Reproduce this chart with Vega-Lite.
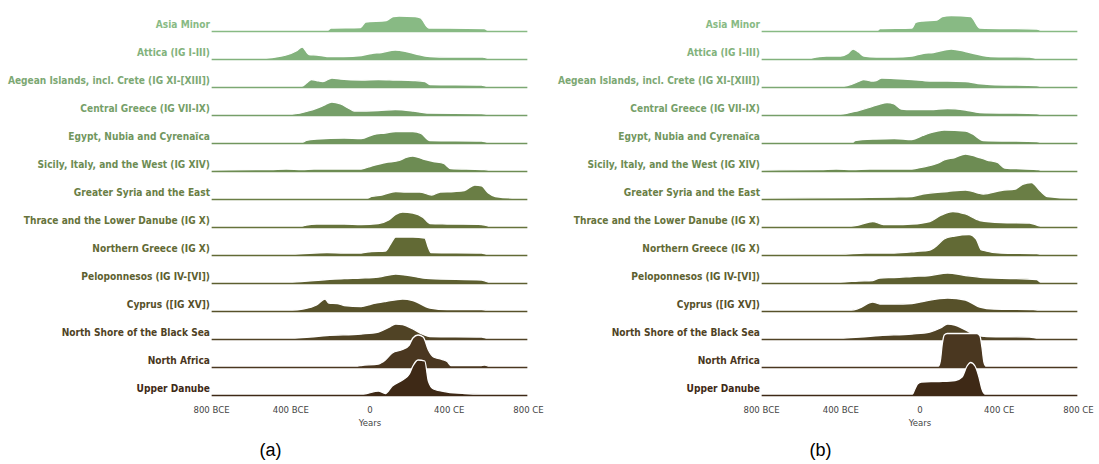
{
"$schema": "https://vega.github.io/schema/vega-lite/v6.json",
"padding": {"left": 7, "top": 5, "right": 5, "bottom": 0},
"background": "white",
"config": {"view": {"stroke": null}, "font": "DejaVu Sans Condensed"},
"datasets": {
"d": [
{"p":"a","k":1,"x":-800,"y":3,"n":"Asia Minor"},{"p":"a","k":1,"x":-210,"y":3},{"p":"a","k":1,"x":-195,"y":5},{"p":"a","k":1,"x":-45,"y":5.5},{"p":"a","k":1,"x":-20,"y":11},{"p":"a","k":1,"x":85,"y":12.5},{"p":"a","k":1,"x":120,"y":16.5},{"p":"a","k":1,"x":150,"y":17},{"p":"a","k":1,"x":230,"y":16.5},{"p":"a","k":1,"x":258,"y":15},{"p":"a","k":1,"x":300,"y":5},{"p":"a","k":1,"x":580,"y":4.5},{"p":"a","k":1,"x":595,"y":3},{"p":"a","k":1,"x":800,"y":3},
{"p":"a","k":2,"x":-800,"y":3,"n":"Attica (IG I-III)"},{"p":"a","k":2,"x":-530,"y":3},{"p":"a","k":2,"x":-475,"y":4},{"p":"a","k":2,"x":-420,"y":6},{"p":"a","k":2,"x":-370,"y":10},{"p":"a","k":2,"x":-340,"y":14},{"p":"a","k":2,"x":-305,"y":6.5},{"p":"a","k":2,"x":-265,"y":6},{"p":"a","k":2,"x":-215,"y":4.5},{"p":"a","k":2,"x":-130,"y":4.5},{"p":"a","k":2,"x":-40,"y":5.5},{"p":"a","k":2,"x":10,"y":7.5},{"p":"a","k":2,"x":60,"y":8.5},{"p":"a","k":2,"x":130,"y":11},{"p":"a","k":2,"x":185,"y":9.5},{"p":"a","k":2,"x":235,"y":7},{"p":"a","k":2,"x":305,"y":4.5},{"p":"a","k":2,"x":400,"y":4},{"p":"a","k":2,"x":570,"y":4},{"p":"a","k":2,"x":595,"y":3},{"p":"a","k":2,"x":800,"y":3},
{"p":"a","k":3,"x":-800,"y":3,"n":"Aegean Islands, incl. Crete (IG XI-[XIII])"},{"p":"a","k":3,"x":-340,"y":3},{"p":"a","k":3,"x":-318,"y":6},{"p":"a","k":3,"x":-293,"y":9.5},{"p":"a","k":3,"x":-267,"y":8.5},{"p":"a","k":3,"x":-235,"y":7.5},{"p":"a","k":3,"x":-190,"y":11},{"p":"a","k":3,"x":-146,"y":10},{"p":"a","k":3,"x":-40,"y":9},{"p":"a","k":3,"x":45,"y":9.5},{"p":"a","k":3,"x":130,"y":9},{"p":"a","k":3,"x":220,"y":8.5},{"p":"a","k":3,"x":280,"y":7.5},{"p":"a","k":3,"x":305,"y":4.5},{"p":"a","k":3,"x":565,"y":4},{"p":"a","k":3,"x":595,"y":3},{"p":"a","k":3,"x":800,"y":3},
{"p":"a","k":4,"x":-800,"y":3,"n":"Central Greece (IG VII-IX)"},{"p":"a","k":4,"x":-390,"y":3},{"p":"a","k":4,"x":-300,"y":6.5},{"p":"a","k":4,"x":-232,"y":11.5},{"p":"a","k":4,"x":-190,"y":15},{"p":"a","k":4,"x":-146,"y":13},{"p":"a","k":4,"x":-94,"y":7.5},{"p":"a","k":4,"x":-76,"y":6},{"p":"a","k":4,"x":45,"y":6.5},{"p":"a","k":4,"x":130,"y":7.5},{"p":"a","k":4,"x":220,"y":6},{"p":"a","k":4,"x":290,"y":4},{"p":"a","k":4,"x":565,"y":3.5},{"p":"a","k":4,"x":595,"y":3},{"p":"a","k":4,"x":800,"y":3},
{"p":"a","k":5,"x":-800,"y":3,"n":"Egypt, Nubia and Cyrenaïca"},{"p":"a","k":5,"x":-337,"y":3},{"p":"a","k":5,"x":-319,"y":4.5},{"p":"a","k":5,"x":-267,"y":6},{"p":"a","k":5,"x":-128,"y":7},{"p":"a","k":5,"x":-42,"y":6.5},{"p":"a","k":5,"x":19,"y":10.5},{"p":"a","k":5,"x":80,"y":12},{"p":"a","k":5,"x":132,"y":13.5},{"p":"a","k":5,"x":219,"y":13.5},{"p":"a","k":5,"x":260,"y":11.5},{"p":"a","k":5,"x":305,"y":4.5},{"p":"a","k":5,"x":566,"y":4},{"p":"a","k":5,"x":600,"y":3},{"p":"a","k":5,"x":800,"y":3},
{"p":"a","k":6,"x":-800,"y":3,"n":"Sicily, Italy, and the West (IG XIV)"},{"p":"a","k":6,"x":-500,"y":3.5},{"p":"a","k":6,"x":-420,"y":4},{"p":"a","k":6,"x":-340,"y":3.5},{"p":"a","k":6,"x":-280,"y":4},{"p":"a","k":6,"x":-42,"y":4},{"p":"a","k":6,"x":10,"y":7},{"p":"a","k":6,"x":80,"y":10.5},{"p":"a","k":6,"x":150,"y":12.5},{"p":"a","k":6,"x":184,"y":15.5},{"p":"a","k":6,"x":219,"y":17},{"p":"a","k":6,"x":271,"y":14},{"p":"a","k":6,"x":323,"y":11.5},{"p":"a","k":6,"x":375,"y":9.5},{"p":"a","k":6,"x":410,"y":4.5},{"p":"a","k":6,"x":566,"y":3.5},{"p":"a","k":6,"x":600,"y":3},{"p":"a","k":6,"x":800,"y":3},
{"p":"a","k":7,"x":-800,"y":3,"n":"Greater Syria and the East"},{"p":"a","k":7,"x":-10,"y":3},{"p":"a","k":7,"x":10,"y":4.5},{"p":"a","k":7,"x":62,"y":6},{"p":"a","k":7,"x":132,"y":9.5},{"p":"a","k":7,"x":184,"y":9},{"p":"a","k":7,"x":253,"y":9},{"p":"a","k":7,"x":314,"y":6},{"p":"a","k":7,"x":357,"y":9},{"p":"a","k":7,"x":427,"y":9.5},{"p":"a","k":7,"x":479,"y":10.5},{"p":"a","k":7,"x":531,"y":16},{"p":"a","k":7,"x":566,"y":15},{"p":"a","k":7,"x":600,"y":8},{"p":"a","k":7,"x":635,"y":4.5},{"p":"a","k":7,"x":740,"y":3},{"p":"a","k":7,"x":800,"y":3},
{"p":"a","k":8,"x":-800,"y":3,"n":"Thrace and the Lower Danube (IG X)"},{"p":"a","k":8,"x":-340,"y":3},{"p":"a","k":8,"x":-319,"y":4},{"p":"a","k":8,"x":-267,"y":5},{"p":"a","k":8,"x":-128,"y":5},{"p":"a","k":8,"x":-42,"y":4.5},{"p":"a","k":8,"x":45,"y":5.5},{"p":"a","k":8,"x":97,"y":9},{"p":"a","k":8,"x":132,"y":14.5},{"p":"a","k":8,"x":167,"y":17},{"p":"a","k":8,"x":219,"y":16},{"p":"a","k":8,"x":271,"y":11.5},{"p":"a","k":8,"x":305,"y":5.5},{"p":"a","k":8,"x":392,"y":5},{"p":"a","k":8,"x":566,"y":4.5},{"p":"a","k":8,"x":600,"y":3},{"p":"a","k":8,"x":800,"y":3},
{"p":"a","k":9,"x":-800,"y":3,"n":"Northern Greece (IG X)"},{"p":"a","k":9,"x":-390,"y":3},{"p":"a","k":9,"x":-215,"y":4.5},{"p":"a","k":9,"x":-128,"y":4},{"p":"a","k":9,"x":-42,"y":4},{"p":"a","k":9,"x":10,"y":5.5},{"p":"a","k":9,"x":80,"y":6},{"p":"a","k":9,"x":106,"y":13},{"p":"a","k":9,"x":132,"y":20},{"p":"a","k":9,"x":219,"y":20},{"p":"a","k":9,"x":279,"y":19},{"p":"a","k":9,"x":297,"y":9.5},{"p":"a","k":9,"x":310,"y":4.5},{"p":"a","k":9,"x":566,"y":4},{"p":"a","k":9,"x":595,"y":3},{"p":"a","k":9,"x":800,"y":3},
{"p":"a","k":10,"x":-800,"y":3,"n":"Peloponnesos (IG IV-[VI])"},{"p":"a","k":10,"x":-389,"y":3},{"p":"a","k":10,"x":-215,"y":5.5},{"p":"a","k":10,"x":-128,"y":6.5},{"p":"a","k":10,"x":-42,"y":7},{"p":"a","k":10,"x":45,"y":8},{"p":"a","k":10,"x":132,"y":11},{"p":"a","k":10,"x":184,"y":10},{"p":"a","k":10,"x":271,"y":7},{"p":"a","k":10,"x":305,"y":6.5},{"p":"a","k":10,"x":566,"y":5},{"p":"a","k":10,"x":600,"y":3},{"p":"a","k":10,"x":800,"y":3},
{"p":"a","k":11,"x":-800,"y":3,"n":"Cyprus ([IG XV])"},{"p":"a","k":11,"x":-389,"y":3},{"p":"a","k":11,"x":-337,"y":4},{"p":"a","k":11,"x":-267,"y":8},{"p":"a","k":11,"x":-224,"y":14},{"p":"a","k":11,"x":-206,"y":10},{"p":"a","k":11,"x":-163,"y":9.5},{"p":"a","k":11,"x":-128,"y":7.5},{"p":"a","k":11,"x":-42,"y":6.5},{"p":"a","k":11,"x":10,"y":9},{"p":"a","k":11,"x":80,"y":11.5},{"p":"a","k":11,"x":167,"y":14},{"p":"a","k":11,"x":219,"y":12.5},{"p":"a","k":11,"x":305,"y":5},{"p":"a","k":11,"x":392,"y":3.5},{"p":"a","k":11,"x":566,"y":3.5},{"p":"a","k":11,"x":590,"y":3},{"p":"a","k":11,"x":800,"y":3},
{"p":"a","k":12,"x":-800,"y":3,"n":"North Shore of the Black Sea"},{"p":"a","k":12,"x":-389,"y":3},{"p":"a","k":12,"x":-300,"y":4},{"p":"a","k":12,"x":-215,"y":5.5},{"p":"a","k":12,"x":-42,"y":7},{"p":"a","k":12,"x":45,"y":9},{"p":"a","k":12,"x":97,"y":13.5},{"p":"a","k":12,"x":132,"y":17},{"p":"a","k":12,"x":167,"y":16.5},{"p":"a","k":12,"x":219,"y":12},{"p":"a","k":12,"x":271,"y":6.5},{"p":"a","k":12,"x":305,"y":4.5},{"p":"a","k":12,"x":566,"y":4},{"p":"a","k":12,"x":595,"y":3},{"p":"a","k":12,"x":800,"y":3},
{"p":"a","k":13,"x":-800,"y":3,"n":"North Africa"},{"p":"a","k":13,"x":-60,"y":3},{"p":"a","k":13,"x":-42,"y":3.5},{"p":"a","k":13,"x":45,"y":5},{"p":"a","k":13,"x":80,"y":9},{"p":"a","k":13,"x":115,"y":16},{"p":"a","k":13,"x":167,"y":19.5},{"p":"a","k":13,"x":201,"y":24},{"p":"a","k":13,"x":219,"y":31},{"p":"a","k":13,"x":245,"y":34},{"p":"a","k":13,"x":271,"y":32},{"p":"a","k":13,"x":297,"y":19},{"p":"a","k":13,"x":323,"y":12},{"p":"a","k":13,"x":357,"y":10},{"p":"a","k":13,"x":392,"y":7.5},{"p":"a","k":13,"x":410,"y":3.5},{"p":"a","k":13,"x":560,"y":3.5},{"p":"a","k":13,"x":580,"y":4},{"p":"a","k":13,"x":600,"y":3},{"p":"a","k":13,"x":800,"y":3},
{"p":"a","k":14,"x":-800,"y":3,"n":"Upper Danube"},{"p":"a","k":14,"x":-30,"y":3},{"p":"a","k":14,"x":45,"y":6},{"p":"a","k":14,"x":80,"y":3.5},{"p":"a","k":14,"x":115,"y":11},{"p":"a","k":14,"x":167,"y":17},{"p":"a","k":14,"x":201,"y":23},{"p":"a","k":14,"x":219,"y":31},{"p":"a","k":14,"x":245,"y":37},{"p":"a","k":14,"x":279,"y":36},{"p":"a","k":14,"x":297,"y":16},{"p":"a","k":14,"x":323,"y":8},{"p":"a","k":14,"x":392,"y":5},{"p":"a","k":14,"x":479,"y":3.5},{"p":"a","k":14,"x":566,"y":3},{"p":"a","k":14,"x":800,"y":3},
{"p":"b","k":1,"x":-800,"y":3,"n":"Asia Minor"},{"p":"b","k":1,"x":-210,"y":3},{"p":"b","k":1,"x":-200,"y":4.5},{"p":"b","k":1,"x":-38,"y":5},{"p":"b","k":1,"x":-20,"y":10.5},{"p":"b","k":1,"x":16,"y":12},{"p":"b","k":1,"x":88,"y":13},{"p":"b","k":1,"x":115,"y":16.5},{"p":"b","k":1,"x":160,"y":17.5},{"p":"b","k":1,"x":259,"y":16.5},{"p":"b","k":1,"x":304,"y":5},{"p":"b","k":1,"x":592,"y":4},{"p":"b","k":1,"x":610,"y":3},{"p":"b","k":1,"x":800,"y":3},
{"p":"b","k":2,"x":-800,"y":3,"n":"Attica (IG I-III)"},{"p":"b","k":2,"x":-545,"y":3},{"p":"b","k":2,"x":-506,"y":4.5},{"p":"b","k":2,"x":-470,"y":5},{"p":"b","k":2,"x":-398,"y":5},{"p":"b","k":2,"x":-362,"y":7.5},{"p":"b","k":2,"x":-335,"y":12},{"p":"b","k":2,"x":-308,"y":9},{"p":"b","k":2,"x":-281,"y":5},{"p":"b","k":2,"x":-218,"y":4},{"p":"b","k":2,"x":-128,"y":4},{"p":"b","k":2,"x":-38,"y":5},{"p":"b","k":2,"x":16,"y":7.5},{"p":"b","k":2,"x":70,"y":8.5},{"p":"b","k":2,"x":160,"y":12},{"p":"b","k":2,"x":232,"y":9.5},{"p":"b","k":2,"x":286,"y":7},{"p":"b","k":2,"x":358,"y":4.5},{"p":"b","k":2,"x":556,"y":4},{"p":"b","k":2,"x":592,"y":3},{"p":"b","k":2,"x":800,"y":3},
{"p":"b","k":3,"x":-800,"y":3,"n":"Aegean Islands, incl. Crete (IG XI-[XIII])"},{"p":"b","k":3,"x":-380,"y":3},{"p":"b","k":3,"x":-344,"y":4.5},{"p":"b","k":3,"x":-308,"y":7.5},{"p":"b","k":3,"x":-281,"y":9.5},{"p":"b","k":3,"x":-245,"y":8},{"p":"b","k":3,"x":-218,"y":8.5},{"p":"b","k":3,"x":-191,"y":11},{"p":"b","k":3,"x":-128,"y":10.5},{"p":"b","k":3,"x":-38,"y":9.5},{"p":"b","k":3,"x":52,"y":8},{"p":"b","k":3,"x":142,"y":8},{"p":"b","k":3,"x":232,"y":7.5},{"p":"b","k":3,"x":295,"y":5.5},{"p":"b","k":3,"x":358,"y":4.5},{"p":"b","k":3,"x":592,"y":3.5},{"p":"b","k":3,"x":610,"y":3},{"p":"b","k":3,"x":800,"y":3},
{"p":"b","k":4,"x":-800,"y":3,"n":"Central Greece (IG VII-IX)"},{"p":"b","k":4,"x":-398,"y":3},{"p":"b","k":4,"x":-308,"y":6.5},{"p":"b","k":4,"x":-254,"y":9.5},{"p":"b","k":4,"x":-200,"y":13},{"p":"b","k":4,"x":-164,"y":14.5},{"p":"b","k":4,"x":-128,"y":13},{"p":"b","k":4,"x":-92,"y":8},{"p":"b","k":4,"x":-38,"y":7.5},{"p":"b","k":4,"x":52,"y":7.5},{"p":"b","k":4,"x":142,"y":8.5},{"p":"b","k":4,"x":232,"y":7},{"p":"b","k":4,"x":304,"y":4.5},{"p":"b","k":4,"x":592,"y":3.5},{"p":"b","k":4,"x":610,"y":3},{"p":"b","k":4,"x":800,"y":3},
{"p":"b","k":5,"x":-800,"y":3,"n":"Egypt, Nubia and Cyrenaïca"},{"p":"b","k":5,"x":-335,"y":3},{"p":"b","k":5,"x":-326,"y":4.5},{"p":"b","k":5,"x":-218,"y":6},{"p":"b","k":5,"x":-128,"y":6.5},{"p":"b","k":5,"x":-38,"y":5.5},{"p":"b","k":5,"x":16,"y":9.5},{"p":"b","k":5,"x":52,"y":12},{"p":"b","k":5,"x":124,"y":15},{"p":"b","k":5,"x":232,"y":14},{"p":"b","k":5,"x":268,"y":11},{"p":"b","k":5,"x":322,"y":4.5},{"p":"b","k":5,"x":592,"y":3.5},{"p":"b","k":5,"x":610,"y":3},{"p":"b","k":5,"x":800,"y":3},
{"p":"b","k":6,"x":-800,"y":3,"n":"Sicily, Italy, and the West (IG XIV)"},{"p":"b","k":6,"x":-500,"y":3.5},{"p":"b","k":6,"x":-420,"y":4},{"p":"b","k":6,"x":-340,"y":3.5},{"p":"b","k":6,"x":-250,"y":4},{"p":"b","k":6,"x":-38,"y":4},{"p":"b","k":6,"x":16,"y":6},{"p":"b","k":6,"x":88,"y":9.5},{"p":"b","k":6,"x":124,"y":13},{"p":"b","k":6,"x":178,"y":15.5},{"p":"b","k":6,"x":232,"y":19},{"p":"b","k":6,"x":286,"y":16.5},{"p":"b","k":6,"x":340,"y":13},{"p":"b","k":6,"x":394,"y":10.5},{"p":"b","k":6,"x":430,"y":5},{"p":"b","k":6,"x":592,"y":3.5},{"p":"b","k":6,"x":610,"y":3},{"p":"b","k":6,"x":800,"y":3},
{"p":"b","k":7,"x":-800,"y":3,"n":"Greater Syria and the East"},{"p":"b","k":7,"x":-308,"y":3.5},{"p":"b","k":7,"x":-128,"y":4},{"p":"b","k":7,"x":-38,"y":4.5},{"p":"b","k":7,"x":16,"y":7},{"p":"b","k":7,"x":142,"y":9.5},{"p":"b","k":7,"x":232,"y":11},{"p":"b","k":7,"x":322,"y":7},{"p":"b","k":7,"x":412,"y":10.5},{"p":"b","k":7,"x":484,"y":12},{"p":"b","k":7,"x":520,"y":16.5},{"p":"b","k":7,"x":565,"y":18.5},{"p":"b","k":7,"x":610,"y":10},{"p":"b","k":7,"x":646,"y":4.5},{"p":"b","k":7,"x":772,"y":3},{"p":"b","k":7,"x":800,"y":3},
{"p":"b","k":8,"x":-800,"y":3,"n":"Thrace and the Lower Danube (IG X)"},{"p":"b","k":8,"x":-344,"y":3},{"p":"b","k":8,"x":-308,"y":4},{"p":"b","k":8,"x":-236,"y":7.5},{"p":"b","k":8,"x":-182,"y":4.5},{"p":"b","k":8,"x":-128,"y":4.5},{"p":"b","k":8,"x":-38,"y":5},{"p":"b","k":8,"x":52,"y":7.5},{"p":"b","k":8,"x":106,"y":13.5},{"p":"b","k":8,"x":169,"y":17.5},{"p":"b","k":8,"x":232,"y":15},{"p":"b","k":8,"x":304,"y":8.5},{"p":"b","k":8,"x":412,"y":6.5},{"p":"b","k":8,"x":556,"y":6},{"p":"b","k":8,"x":610,"y":3},{"p":"b","k":8,"x":800,"y":3},
{"p":"b","k":9,"x":-800,"y":3,"n":"Northern Greece (IG X)"},{"p":"b","k":9,"x":-398,"y":3},{"p":"b","k":9,"x":-272,"y":4},{"p":"b","k":9,"x":-128,"y":4},{"p":"b","k":9,"x":-20,"y":5.5},{"p":"b","k":9,"x":52,"y":7},{"p":"b","k":9,"x":88,"y":11.5},{"p":"b","k":9,"x":124,"y":18},{"p":"b","k":9,"x":178,"y":21},{"p":"b","k":9,"x":250,"y":22.5},{"p":"b","k":9,"x":286,"y":18},{"p":"b","k":9,"x":313,"y":7},{"p":"b","k":9,"x":412,"y":4},{"p":"b","k":9,"x":592,"y":3.5},{"p":"b","k":9,"x":610,"y":3},{"p":"b","k":9,"x":800,"y":3},
{"p":"b","k":10,"x":-800,"y":3,"n":"Peloponnesos (IG IV-[VI])"},{"p":"b","k":10,"x":-398,"y":3},{"p":"b","k":10,"x":-308,"y":4},{"p":"b","k":10,"x":-236,"y":4.5},{"p":"b","k":10,"x":-200,"y":7},{"p":"b","k":10,"x":-128,"y":7.5},{"p":"b","k":10,"x":-38,"y":8.5},{"p":"b","k":10,"x":52,"y":9.5},{"p":"b","k":10,"x":142,"y":12},{"p":"b","k":10,"x":232,"y":9.5},{"p":"b","k":10,"x":322,"y":7.5},{"p":"b","k":10,"x":592,"y":5.5},{"p":"b","k":10,"x":610,"y":3},{"p":"b","k":10,"x":800,"y":3},
{"p":"b","k":11,"x":-800,"y":3,"n":"Cyprus ([IG XV])"},{"p":"b","k":11,"x":-344,"y":3},{"p":"b","k":11,"x":-308,"y":4.5},{"p":"b","k":11,"x":-236,"y":11},{"p":"b","k":11,"x":-200,"y":9},{"p":"b","k":11,"x":-128,"y":9},{"p":"b","k":11,"x":-38,"y":9.5},{"p":"b","k":11,"x":16,"y":11.5},{"p":"b","k":11,"x":142,"y":15},{"p":"b","k":11,"x":232,"y":13},{"p":"b","k":11,"x":304,"y":6},{"p":"b","k":11,"x":376,"y":4},{"p":"b","k":11,"x":574,"y":3.5},{"p":"b","k":11,"x":600,"y":3},{"p":"b","k":11,"x":800,"y":3},
{"p":"b","k":12,"x":-800,"y":3,"n":"North Shore of the Black Sea"},{"p":"b","k":12,"x":-398,"y":3},{"p":"b","k":12,"x":-300,"y":4},{"p":"b","k":12,"x":-200,"y":5.5},{"p":"b","k":12,"x":-38,"y":7},{"p":"b","k":12,"x":52,"y":9},{"p":"b","k":12,"x":106,"y":13},{"p":"b","k":12,"x":142,"y":17},{"p":"b","k":12,"x":178,"y":16},{"p":"b","k":12,"x":232,"y":11},{"p":"b","k":12,"x":286,"y":6},{"p":"b","k":12,"x":340,"y":4.5},{"p":"b","k":12,"x":556,"y":4},{"p":"b","k":12,"x":600,"y":3},{"p":"b","k":12,"x":800,"y":3},
{"p":"b","k":13,"x":-800,"y":3,"n":"North Africa"},{"p":"b","k":13,"x":95,"y":3},{"p":"b","k":13,"x":105,"y":8},{"p":"b","k":13,"x":115,"y":25},{"p":"b","k":13,"x":125,"y":34},{"p":"b","k":13,"x":140,"y":35.5},{"p":"b","k":13,"x":200,"y":35.5},{"p":"b","k":13,"x":290,"y":35.5},{"p":"b","k":13,"x":305,"y":33},{"p":"b","k":13,"x":315,"y":22},{"p":"b","k":13,"x":325,"y":7},{"p":"b","k":13,"x":335,"y":3},{"p":"b","k":13,"x":800,"y":3},
{"p":"b","k":14,"x":-800,"y":3,"n":"Upper Danube"},{"p":"b","k":14,"x":-35,"y":3},{"p":"b","k":14,"x":-25,"y":7},{"p":"b","k":14,"x":-10,"y":13},{"p":"b","k":14,"x":10,"y":15},{"p":"b","k":14,"x":100,"y":15.5},{"p":"b","k":14,"x":180,"y":16.5},{"p":"b","k":14,"x":215,"y":20},{"p":"b","k":14,"x":240,"y":31},{"p":"b","k":14,"x":258,"y":34.5},{"p":"b","k":14,"x":280,"y":31},{"p":"b","k":14,"x":300,"y":20},{"p":"b","k":14,"x":315,"y":8},{"p":"b","k":14,"x":330,"y":3},{"p":"b","k":14,"x":800,"y":3}
]
},
"data": {"name": "d"},
"spacing": 550,
"bounds": "flush",
"hconcat": [
{
"transform": [{"filter": "datum.p == 'a'"}],
"title": {"text": "(a)", "orient": "bottom", "font": "Liberation Sans", "fontSize": 18, "fontWeight": "normal", "color": "#000", "offset": 15, "anchor": "middle", "frame": "bounds", "dx": -5},
"facet": {"row": {"field": "k", "type": "ordinal", "header": {"labels": false, "title": null}}},
"spacing": {"row": 0},
"bounds": "flush",
"spec": {
"width": 317, "height": 28,
"layer": [
{
"mark": {"type": "area", "interpolate": "monotone", "stroke": "white", "strokeWidth": 1.3, "strokeJoin": "round"},
"encoding": {
"x": {"field": "x", "type": "quantitative", "scale": {"domain": [-800, 800], "nice": false, "zero": false}, "axis": {"values": [-800, -400, 0, 400, 800], "labelExpr": "datum.value < 0 ? (-datum.value) + ' BCE' : (datum.value > 0 ? datum.value + ' CE' : '0')", "domain": false, "ticks": false, "grid": false, "labelFlush": false, "labelOverlap": false, "labelFont": "DejaVu Sans Condensed", "labelFontSize": 9.5, "labelColor": "#444", "labelPadding": 7, "title": "Years", "titleFont": "DejaVu Sans Condensed", "titleFontSize": 9.5, "titleFontWeight": "normal", "titleColor": "#444", "titlePadding": 4}},
"y": {"field": "y", "type": "quantitative", "scale": {"domain": [0, 40], "range": [28, -12], "nice": false, "zero": false}, "axis": null},
"color": {"field": "k", "type": "ordinal", "legend": null, "scale": {"domain": [1,2,3,4,5,6,7,8,9,10,11,12,13,14], "range": ["#88ba84","#82b27c","#7ca873","#769f69","#71965e","#6d8c53","#6a7e45","#66733b","#626a35","#5d5f30","#57512a","#504325","#4a3720","#3e2916"]}}
}
},
{
"transform": [{"filter": "datum.x == -800"}],
"mark": {"type": "text", "align": "right", "baseline": "alphabetic", "dx": -1, "dy": -5, "font": "DejaVu Sans Condensed", "fontWeight": "bold", "fontSize": 10.1},
"encoding": {
"x": {"field": "x", "type": "quantitative"},
"y": {"datum": 0, "type": "quantitative"},
"text": {"field": "n"},
"color": {"field": "k", "type": "ordinal", "legend": null}
}
}
]
}
},
{
"transform": [{"filter": "datum.p == 'b'"}],
"title": {"text": "(b)", "orient": "bottom", "font": "Liberation Sans", "fontSize": 18, "fontWeight": "normal", "color": "#000", "offset": 15, "anchor": "middle", "frame": "bounds", "dx": -5},
"facet": {"row": {"field": "k", "type": "ordinal", "header": {"labels": false, "title": null}}},
"spacing": {"row": 0},
"bounds": "flush",
"spec": {
"width": 317, "height": 28,
"layer": [
{
"mark": {"type": "area", "interpolate": "monotone", "stroke": "white", "strokeWidth": 1.3, "strokeJoin": "round"},
"encoding": {
"x": {"field": "x", "type": "quantitative", "scale": {"domain": [-800, 800], "nice": false, "zero": false}, "axis": {"values": [-800, -400, 0, 400, 800], "labelExpr": "datum.value < 0 ? (-datum.value) + ' BCE' : (datum.value > 0 ? datum.value + ' CE' : '0')", "domain": false, "ticks": false, "grid": false, "labelFlush": false, "labelOverlap": false, "labelFont": "DejaVu Sans Condensed", "labelFontSize": 9.5, "labelColor": "#444", "labelPadding": 7, "title": "Years", "titleFont": "DejaVu Sans Condensed", "titleFontSize": 9.5, "titleFontWeight": "normal", "titleColor": "#444", "titlePadding": 4}},
"y": {"field": "y", "type": "quantitative", "scale": {"domain": [0, 40], "range": [28, -12], "nice": false, "zero": false}, "axis": null},
"color": {"field": "k", "type": "ordinal", "legend": null, "scale": {"domain": [1,2,3,4,5,6,7,8,9,10,11,12,13,14], "range": ["#88ba84","#82b27c","#7ca873","#769f69","#71965e","#6d8c53","#6a7e45","#66733b","#626a35","#5d5f30","#57512a","#504325","#4a3720","#3e2916"]}}
}
},
{
"transform": [{"filter": "datum.x == -800"}],
"mark": {"type": "text", "align": "right", "baseline": "alphabetic", "dx": -1, "dy": -5, "font": "DejaVu Sans Condensed", "fontWeight": "bold", "fontSize": 10.1},
"encoding": {
"x": {"field": "x", "type": "quantitative"},
"y": {"datum": 0, "type": "quantitative"},
"text": {"field": "n"},
"color": {"field": "k", "type": "ordinal", "legend": null}
}
}
]
}
}
]
}
